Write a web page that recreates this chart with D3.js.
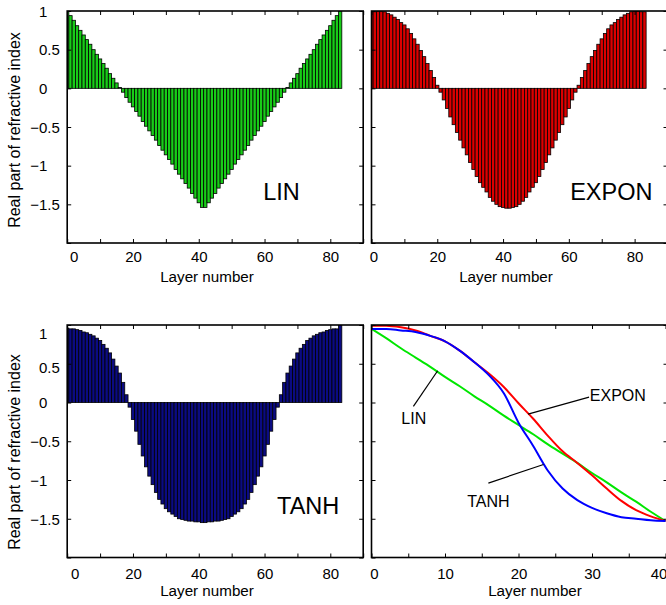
<!DOCTYPE html>
<html>
<head>
<meta charset="utf-8">
<script src="https://cdn.jsdelivr.net/npm/d3@7/dist/d3.min.js"></script>
<style>
	body { margin: 0; background: #fff; }
	svg { display: block; font-family: "Liberation Sans", Arial, Helvetica, sans-serif; }
</style>
</head>
<body>
<svg id="chart" width="666" height="605"></svg>
<script>

//layer index of every bar (0..83)
const layers = d3.range(84)

//bar heights
const linBars = [1.00, 0.94, 0.88, 0.81, 0.75, 0.69, 0.63, 0.57, 0.50, 0.44, 0.38, 0.32, 0.26, 0.19, 0.13, 0.07, 0.01, -0.05, -0.12, -0.18, -0.24, -0.30, -0.36, -0.43, -0.49, -0.55, -0.61, -0.67, -0.74, -0.80, -0.86, -0.92, -0.98, -1.05, -1.11, -1.17, -1.23, -1.29, -1.36, -1.42, -1.48, -1.54,
	-1.54, -1.48, -1.42, -1.36, -1.29, -1.23, -1.17, -1.11, -1.05, -0.98, -0.92, -0.86, -0.80, -0.74, -0.67, -0.61, -0.55, -0.49, -0.43, -0.36, -0.30, -0.24, -0.18, -0.12, -0.05, 0.01, 0.07, 0.13, 0.19, 0.26, 0.32, 0.38, 0.44, 0.50, 0.57, 0.63, 0.69, 0.75, 0.81, 0.88, 0.94, 1.00]

const exponBars = [0.99, 0.99, 1.00, 1.00, 0.99, 0.97, 0.95, 0.92, 0.89, 0.85, 0.82, 0.77, 0.71, 0.64, 0.57, 0.49, 0.41, 0.32, 0.23, 0.14, 0.04, -0.05, -0.15, -0.26, -0.37, -0.47, -0.57, -0.67, -0.77, -0.86, -0.96, -1.05, -1.14, -1.22, -1.28, -1.34, -1.41, -1.46, -1.50, -1.53, -1.54, -1.55,
	-1.55, -1.54, -1.53, -1.50, -1.46, -1.41, -1.34, -1.28, -1.22, -1.14, -1.05, -0.96, -0.86, -0.77, -0.67, -0.57, -0.47, -0.37, -0.26, -0.15, -0.05, 0.04, 0.14, 0.23, 0.32, 0.41, 0.49, 0.57, 0.64, 0.71, 0.77, 0.82, 0.85, 0.89, 0.92, 0.95, 0.97, 0.99, 1.00, 1.00, 0.99, 0.99]

const tanhBars = [0.96, 0.95, 0.95, 0.94, 0.93, 0.91, 0.90, 0.88, 0.86, 0.83, 0.80, 0.75, 0.70, 0.64, 0.56, 0.47, 0.38, 0.26, 0.10, -0.06, -0.22, -0.37, -0.54, -0.69, -0.83, -0.95, -1.06, -1.16, -1.25, -1.31, -1.37, -1.41, -1.44, -1.47, -1.50, -1.51, -1.52, -1.53, -1.53, -1.54, -1.54, -1.55,
	-1.55, -1.54, -1.54, -1.53, -1.53, -1.52, -1.51, -1.50, -1.47, -1.44, -1.41, -1.37, -1.31, -1.25, -1.16, -1.06, -0.95, -0.83, -0.69, -0.54, -0.37, -0.22, -0.06, 0.10, 0.26, 0.38, 0.47, 0.56, 0.64, 0.70, 0.75, 0.80, 0.83, 0.86, 0.88, 0.90, 0.91, 0.93, 0.94, 0.95, 0.95, 1.00]

//half profiles compared in the last panel
const curveX = [0, 2, 4, 6, 8, 10, 12, 14, 16, 18, 20, 22, 24, 26, 28, 30, 32, 34, 36, 38, 40]
const linCurve = [0.95, 0.83, 0.70, 0.58, 0.46, 0.33, 0.21, 0.08, -0.04, -0.17, -0.29, -0.41, -0.54, -0.66, -0.78, -0.91, -1.03, -1.16, -1.28, -1.41, -1.53]
const exponCurve = [0.99, 0.99, 0.97, 0.93, 0.86, 0.79, 0.67, 0.52, 0.37, 0.20, -0.01, -0.21, -0.43, -0.63, -0.78, -0.94, -1.11, -1.27, -1.39, -1.47, -1.53]
const tanhCurve = [0.95, 0.95, 0.93, 0.91, 0.86, 0.79, 0.67, 0.52, 0.35, 0.12, -0.26, -0.56, -0.88, -1.11, -1.26, -1.36, -1.43, -1.48, -1.50, -1.52, -1.53]

//tick values
const yTicks = [-2, -1.5, -1, -0.5, 0, 0.5, 1]
const layerTicks = [0, 10, 20, 30, 40, 50, 60, 70, 80, 90]
const layerLabels = [0, 20, 40, 60, 80]
const halfTicks = [0, 5, 10, 15, 20, 25, 30, 35, 40]
const halfLabels = [0, 10, 20, 30, 40]

const svg = d3.select('#chart')
const minus = d => (d < 0 ? '\u2212' : '') + Math.abs(d)

/*
	one panel = frame + inward ticks on all four sides
	returns the scales and a clipped group to draw into
*/
function makePanel(p) {
	const x = d3.scaleLinear().domain(p.xDomain).range([p.left, p.right])
	const y = d3.scaleLinear().domain([-2, 1]).range([p.bottom, p.top])

	svg.append('clipPath').attr('id', 'clip-' + p.id)
		.append('rect')
		.attr('x', p.left).attr('y', p.top)
		.attr('width', p.right - p.left).attr('height', p.bottom - p.top)

	const plot = svg.append('g').attr('clip-path', `url(#clip-${p.id})`)
	const axes = svg.append('g')

	//bottom
	let ax = axes.append('g').attr('transform', `translate(0,${p.bottom})`)
		.call(d3.axisBottom(x).tickValues(p.ticks).tickSize(-4)
			.tickFormat(d => p.labels.includes(d) ? d : ''))
	ax.selectAll('text')
		.attr('y', p.tickBase).attr('dy', 0)
		.attr('dx', d => d === 0 ? p.zeroShift : (x(d) > 655 ? -7 : 0))
	//top
	axes.append('g').attr('transform', `translate(0,${p.top})`)
		.call(d3.axisTop(x).tickValues(p.ticks).tickSize(-4).tickFormat(''))
	//left
	ax = axes.append('g').attr('transform', `translate(${p.left},0)`)
		.call(d3.axisLeft(y).tickValues(yTicks).tickSize(-4)
			.tickFormat(d => p.yLabels && d > -2 ? minus(d) : ''))
	ax.selectAll('text')
		.attr('text-anchor', 'start')
		.attr('x', d => 39 - p.left - (d < 0 ? 8.8 : 0))
		.attr('dy', d => (p.yShift && p.yShift[d] ? p.yShift[d] : 0) + 5.3)
	//right
	axes.append('g').attr('transform', `translate(${p.right},0)`)
		.call(d3.axisRight(y).tickValues(yTicks).tickSize(-4).tickFormat(''))

	axes.selectAll('.domain').remove()
	axes.selectAll('g').attr('font-family', null).attr('font-size', 15)
	axes.selectAll('text').attr('fill', '#000')
	axes.selectAll('line').attr('stroke-width', 1)

	svg.append('rect')
		.attr('x', p.left).attr('y', p.top)
		.attr('width', p.right - p.left).attr('height', p.bottom - p.top)
		.attr('fill', 'none').attr('stroke', '#000').attr('stroke-width', 1.6)

	svg.append('text')
		.attr('x', p.xTitleX).attr('y', p.xTitleY)
		.attr('text-anchor', 'middle').attr('font-size', 15.2)
		.text('Layer number')

	if (p.yTitleY) {
		svg.append('text')
			.attr('transform', `translate(14,${p.yTitleY}) rotate(-90)`)
			.attr('text-anchor', 'middle').attr('dominant-baseline', 'central')
			.attr('font-size', 16)
			.text('Real part of refractive index')
	}

	return { x, y, plot }
}

function drawBars(p, values, color, name, at) {
	const { x, y, plot } = makePanel(p)
	const bw = x(1) - x(0)
	plot.selectAll('rect')
		.data(values)
		.join('rect')
		.attr('x', (d, i) => x(layers[i] - 0.5))
		.attr('width', bw)
		.attr('y', d => y(Math.max(0, d)))
		.attr('height', d => Math.abs(y(d) - y(0)))
		.attr('fill', color)
		.attr('stroke', '#000')
		.attr('stroke-width', 0.8)

	svg.append('text')
		.attr('x', x(at[0])).attr('y', y(at[1]))
		.attr('font-size', 23.5)
		.text(name)
}

//panel boxes
const tl = { id: 'tl', left: 67.2, right: 363.2, top: 11, bottom: 243, xDomain: [0, 90], ticks: layerTicks, labels: layerLabels,
	tickBase: 18.9, zeroShift: 6.5, xTitleX: 207, xTitleY: 281.5, yLabels: true, yTitleY: 130 }
const tr = { id: 'tr', left: 371.5, right: 667.5, top: 11, bottom: 243, xDomain: [0, 90], ticks: layerTicks, labels: layerLabels,
	tickBase: 18.9, zeroShift: 2, xTitleX: 506, xTitleY: 281.5 }
const bl = { id: 'bl', left: 67.2, right: 363.2, top: 325, bottom: 557.5, xDomain: [0, 90], ticks: layerTicks, labels: layerLabels,
	tickBase: 21, zeroShift: 7.5, xTitleX: 207, xTitleY: 596, yLabels: true, yTitleY: 452, yShift: { 1: 8, 0.5: 3.5 } }
const br = { id: 'br', left: 371.5, right: 667.5, top: 325, bottom: 557.5, xDomain: [0, 40.27], ticks: halfTicks, labels: halfLabels,
	tickBase: 21, zeroShift: 2.5, xTitleX: 535, xTitleY: 596 }

drawBars(tl, linBars, '#18cc18', 'LIN', [59.6, -1.44])
drawBars(tr, exponBars, '#dc0000', 'EXPON', [60.4, -1.44])
drawBars(bl, tanhBars, '#0b0b82', 'TANH', [63.8, -1.44])

//comparison panel
const cmp = makePanel(br)
const line = d3.line()
	.x((d, i) => cmp.x(curveX[i]))
	.y(d => cmp.y(d))
	.curve(d3.curveMonotoneX)

const profiles = [
	{ values: linCurve, color: '#00e600' },
	{ values: exponCurve, color: '#ff0000' },
	{ values: tanhCurve, color: '#0000ff' }
]
cmp.plot.selectAll('path.profile')
	.data(profiles)
	.join('path')
	.attr('class', 'profile')
	.attr('d', d => line(d.values))
	.attr('fill', 'none')
	.attr('stroke', d => d.color)
	.attr('stroke-width', 2)

//labels pointing at the curves, in layer / index units
const notes = [
	{ text: 'LIN', at: [5.75, -0.28], anchor: 'middle', tip: [9.0, 0.41], tail: [5.7, -0.05] },
	{ text: 'EXPON', at: [29.7, 0.02], anchor: 'start', tip: [21.3, -0.15], tail: [29.6, 0.07] },
	{ text: 'TANH', at: [15.9, -1.35], anchor: 'middle', tip: [23.4, -0.80], tail: [15.9, -1.04] }
]
notes.forEach(n => {
	svg.append('line')
		.attr('x1', cmp.x(n.tail[0])).attr('y1', cmp.y(n.tail[1]))
		.attr('x2', cmp.x(n.tip[0])).attr('y2', cmp.y(n.tip[1]))
		.attr('stroke', '#000').attr('stroke-width', 1.2)
	svg.append('text')
		.attr('x', cmp.x(n.at[0])).attr('y', cmp.y(n.at[1]))
		.attr('text-anchor', n.anchor)
		.attr('font-size', 16)
		.text(n.text)
})

</script>
</body>
</html>
